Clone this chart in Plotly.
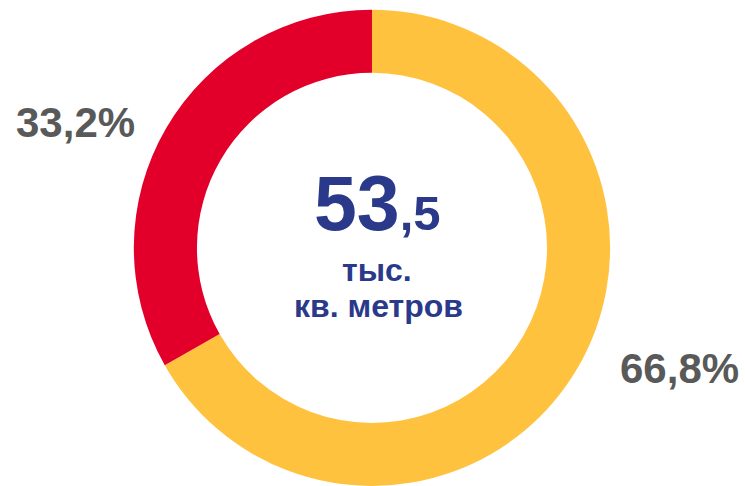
import plotly.graph_objects as go

labels = ["Доля 1", "Доля 2"]
values = [66.8, 33.2]
colors = ["#FFC23F", "#E2002B"]
pct_labels = ["66,8%", "33,2%"]
total_main = "53"
total_dec = ",5"
unit_lines = ["тыс.", "кв. метров"]

W, H = 745, 486

fig = go.Figure(go.Pie(
    labels=labels, values=values, hole=0.735, sort=False, direction="clockwise",
    rotation=0, marker=dict(colors=colors, line=dict(width=0)),
    textinfo="none", hoverinfo="label+percent", showlegend=False,
    domain=dict(x=[0, 0.9986], y=[0, 0.98]),
))

def px(x, y):
    return x / W, 1 - y / H

navy = "#2A398A"
gray = "#595959"
font = "Liberation Sans, Arial, sans-serif"
ann = []
def add(xp, yp, text, size, color):
    x, y = px(xp, yp)
    ann.append(dict(x=x, y=y, xref="paper", yref="paper", showarrow=False,
                    xanchor="center", yanchor="middle", text=text,
                    font=dict(size=size, color=color, family=font)))

add(377, 203, f"<b>{total_main}</b><b><span style='font-size:49px'>{total_dec}</span></b>", 77, navy)
add(377, 270, f"<b>{unit_lines[0]}</b>", 32, navy)
add(378, 306, f"<b>{unit_lines[1]}</b>", 32, navy)
add(679, 368, f"<b>{pct_labels[0]}</b>", 42, gray)
add(75, 122, f"<b>{pct_labels[1]}</b>", 42, gray)

fig.update_layout(
    width=W, height=H, margin=dict(l=0, r=0, t=0, b=0),
    paper_bgcolor="white", plot_bgcolor="white", annotations=ann,
)
fig.write_html("out.html", config={"displayModeBar": False},
               post_script="document.body.style.margin='0';")
